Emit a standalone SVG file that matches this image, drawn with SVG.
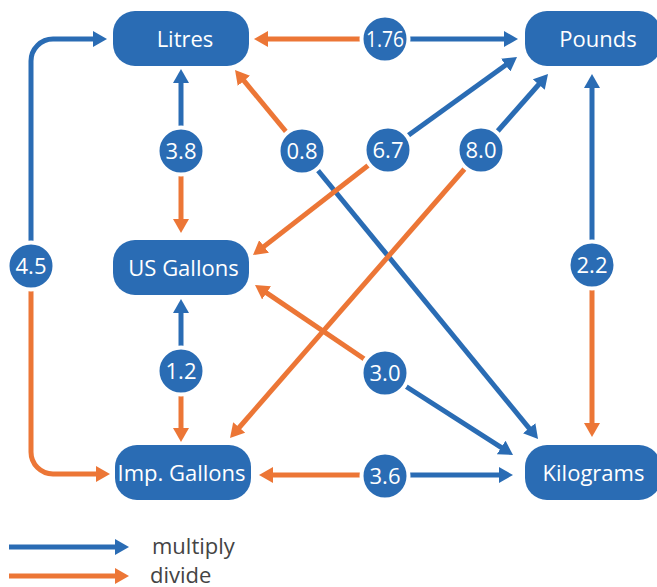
<svg xmlns="http://www.w3.org/2000/svg" width="657" height="587" viewBox="0 0 657 587">
<style>
.box{fill:#2a6cb4}
.nt{fill:#fff;font-family:"Open Sans","Noto Sans",sans-serif;font-size:22px;text-anchor:middle}
.c{fill:#2a6cb4;stroke:#fff;stroke-width:4}
.b{stroke:#2a6cb4;stroke-width:5;fill:none;marker-end:url(#ab)}
.o{stroke:#ec7636;stroke-width:5;fill:none;marker-end:url(#ao)}
.lg{fill:#444;font-family:"Open Sans","Noto Sans",sans-serif;font-size:22px}
</style>
<defs>
<marker id="ab" markerUnits="userSpaceOnUse" markerWidth="16" markerHeight="16" refX="4" refY="8" orient="auto" viewBox="0 0 16 16"><path d="M0,0L14,8L0,16z" fill="#2a6cb4"/></marker>
<marker id="ao" markerUnits="userSpaceOnUse" markerWidth="16" markerHeight="16" refX="4" refY="8" orient="auto" viewBox="0 0 16 16"><path d="M0,0L14,8L0,16z" fill="#ec7636"/></marker>
</defs>
<g id="connectors">
<line class="o" x1="385" y1="39" x2="264" y2="39"/>
<line class="b" x1="385" y1="39" x2="508" y2="39"/>
<line class="b" x1="181" y1="151" x2="181" y2="79"/>
<line class="o" x1="181" y1="151" x2="181" y2="223"/>
<line class="o" x1="302" y1="151" x2="241.4" y2="77.7"/>
<line class="b" x1="302" y1="151" x2="531.7" y2="431.3"/>
<line class="b" x1="388" y1="150" x2="508.9" y2="62.8"/>
<line class="o" x1="388" y1="150" x2="260.9" y2="248.9"/>
<line class="b" x1="481" y1="150" x2="541.4" y2="81.5"/>
<line class="o" x1="481" y1="150" x2="236.6" y2="430.5"/>
<path class="b" d="M31,266V61A22,22 0 0 1 53,39H97"/>
<path class="o" d="M31,266V452A22,22 0 0 0 53,474H100"/>
<line class="b" x1="592" y1="265" x2="592" y2="84"/>
<line class="o" x1="592" y1="265" x2="592" y2="427"/>
<line class="b" x1="181" y1="371" x2="181" y2="309"/>
<line class="o" x1="181" y1="371" x2="181" y2="432"/>
<line class="o" x1="385" y1="373" x2="263.3" y2="290.6"/>
<line class="b" x1="385" y1="373" x2="504.6" y2="449.6"/>
<line class="o" x1="385" y1="475" x2="269" y2="475"/>
<line class="b" x1="385" y1="475" x2="503" y2="475"/>
</g>
<g id="factors">
<g id="f176"><circle class="c" cx="385" cy="39" r="23.5"/><text class="nt" x="385" y="46.5" textLength="38" lengthAdjust="spacingAndGlyphs">1.76</text></g>
<g id="f38"><circle class="c" cx="181" cy="151" r="23.5"/><text class="nt" x="181" y="158.5">3.8</text></g>
<g id="f08"><circle class="c" cx="302" cy="151" r="23.5"/><text class="nt" x="302" y="158.5">0.8</text></g>
<g id="f67"><circle class="c" cx="388" cy="150" r="23.5"/><text class="nt" x="388" y="157.5">6.7</text></g>
<g id="f80"><circle class="c" cx="481" cy="150" r="23.5"/><text class="nt" x="481" y="157.5">8.0</text></g>
<g id="f45"><circle class="c" cx="31" cy="266" r="23.5"/><text class="nt" x="31" y="273.5">4.5</text></g>
<g id="f22"><circle class="c" cx="592" cy="265" r="23.5"/><text class="nt" x="592" y="272.5">2.2</text></g>
<g id="f12"><circle class="c" cx="181" cy="371" r="23.5"/><text class="nt" x="181" y="378.5">1.2</text></g>
<g id="f30"><circle class="c" cx="385" cy="373" r="23.5"/><text class="nt" x="385" y="380.5">3.0</text></g>
<g id="f36"><circle class="c" cx="385" cy="476" r="23.5"/><text class="nt" x="385" y="483.5">3.6</text></g>
</g>
<g id="litres"><rect class="box" x="113" y="11" width="136" height="55" rx="22"/><text class="nt" x="185" y="47">Litres</text></g>
<g id="pounds"><rect class="box" x="525" y="11" width="136" height="55" rx="22"/><text class="nt" x="598" y="47">Pounds</text></g>
<g id="usgallons"><rect class="box" x="113" y="240" width="136" height="55" rx="22"/><text class="nt" x="183.5" y="276">US Gallons</text></g>
<g id="impgallons"><rect class="box" x="115" y="445" width="136" height="55" rx="22"/><text class="nt" x="181.5" y="481">Imp. Gallons</text></g>
<g id="kilograms"><rect class="box" x="525" y="445" width="136" height="55" rx="22"/><text class="nt" x="593.5" y="481">Kilograms</text></g>
<g id="legend">
<line class="b" x1="9" y1="547" x2="119" y2="547"/>
<line class="o" x1="9" y1="576" x2="119" y2="576"/>
<text class="lg" x="152" y="554">multiply</text>
<text class="lg" x="150" y="582.5">divide</text>
</g>
</svg>
